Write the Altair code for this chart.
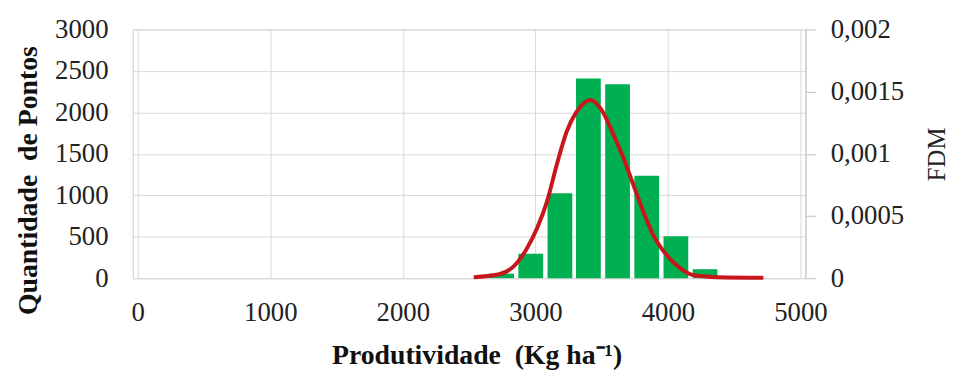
import altair as alt
import pandas as pd

# Histogram bins (bin centers, Kg ha-1) and counts
bin_centers = [2745, 2965, 3185, 3400, 3620, 3840, 4060, 4280]
counts = [55, 295, 1025, 2410, 2340, 1235, 505, 108]

# Fitted density curve (FDM)
curve_x = [2535, 2719, 2842, 2940, 3014, 3088, 3161, 3235, 3309, 3417, 3493,
           3591, 3665, 3739, 3813, 3886, 3984, 4082, 4205, 4376, 4720]
curve_y = [0.000008, 0.000029, 0.000100, 0.000247, 0.000406, 0.000618, 0.000911,
           0.001176, 0.001335, 0.001433, 0.001363, 0.001150, 0.000964, 0.000751,
           0.000539, 0.000353, 0.000194, 0.000088, 0.000021, 0.000008, 0.000003]

x_ticks = [0, 1000, 2000, 3000, 4000, 5000]
y_ticks = [0, 500, 1000, 1500, 2000, 2500, 3000]
fdm_ticks = [0, 0.0005, 0.001, 0.0015, 0.002]

hist = pd.DataFrame({"x": bin_centers, "n": counts})
curve = pd.DataFrame({"x": curve_x, "f": curve_y})

FONT = "Liberation Serif"
GRID = "#d9d9d9"
NB = "\u00a0"

xscale = alt.Scale(domain=[0, 5000], nice=False, zero=False)
xaxis = alt.Axis(values=x_ticks, format="d", title=f"Produtividade{NB}{NB}(Kg ha⁻¹)",
                 grid=True, gridColor=GRID, domainColor=GRID, ticks=False,
                 labelPadding=22, labelFontSize=27, labelFont=FONT,
                 labelColor="#222", titleFont=FONT, titleFontSize=28,
                 titleFontWeight="bold", titleColor="#111", titlePadding=16,
                 titleX=347, labelFlush=False)

bars = alt.Chart(hist).mark_bar(color="#00B050", size=25).encode(
    x=alt.X("x:Q", scale=xscale, axis=xaxis),
    y=alt.Y("n:Q", scale=alt.Scale(domain=[0, 3000], nice=False),
            axis=alt.Axis(values=y_ticks, format="d",
                          title=f"Quantidade{NB}{NB}de Pontos",
                          grid=True, gridColor=GRID, domain=True, domainColor=GRID,
                          ticks=False, labelPadding=25, labelFontSize=27,
                          labelFont=FONT, labelColor="#222", titleFont=FONT,
                          titleFontSize=28, titleFontWeight="bold",
                          titleColor="#111", titlePadding=12, titleY=152)),
)

line = alt.Chart(curve).mark_line(color="#C8161D", strokeWidth=4,
                                  interpolate="monotone").encode(
    x=alt.X("x:Q", scale=xscale),
    y=alt.Y("f:Q", scale=alt.Scale(domain=[0, 0.002], nice=False),
            axis=alt.Axis(orient="right", values=fdm_ticks, title="FDM",
                          labelExpr="replace(toString(datum.value), '.', ',')",
                          grid=False, domainColor="#bfbfbf", tickColor="#bfbfbf",
                          tickSize=10, labelPadding=15, labelFontSize=27,
                          labelFont=FONT, labelColor="#222", titleFont=FONT,
                          titleFontSize=25, titleFontWeight="normal",
                          titleColor="#222", titleAngle=270, titlePadding=46)),
)

chart = alt.layer(bars, line).resolve_scale(y="independent").properties(
    width=679, height=251, autosize="none",
    padding={"left": 126, "top": 20, "right": 152, "bottom": 92},
).configure_view(stroke=None).configure(background="white")

chart.save("out.html", embed_options={"renderer": "svg", "actions": False})
